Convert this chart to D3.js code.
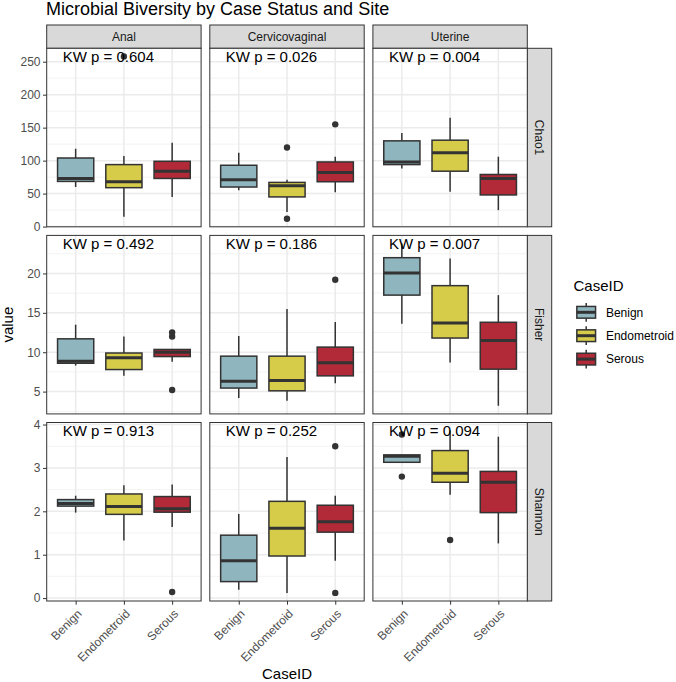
<!DOCTYPE html>
<html>
<head>
<meta charset="utf-8">
<script src="https://cdn.jsdelivr.net/npm/d3@7"></script>
<style>
  html, body { margin: 0; padding: 0; background: #fff; }
  svg { display: block; font-family: "Liberation Sans", Arial, Helvetica, sans-serif; }
</style>
</head>
<body>
<svg id="chart" width="676" height="682"></svg>
<script>
// ---------- data ----------
const sites = ["Anal", "Cervicovaginal", "Uterine"];
const metrics = ["Chao1", "Fisher", "Shannon"];
const caseIDs = ["Benign", "Endometroid", "Serous"];

// Kruskal-Wallis p-values, [metric][site]
const chao1PValues = ["0.604", "0.026", "0.004"];
const fisherPValues = ["0.492", "0.186", "0.007"];
const shannonPValues = ["0.913", "0.252", "0.094"];

// box stats: [site, caseID, lowerWhisker, q1, median, q3, upperWhisker]
const chao1Boxes = [
  ["Anal", "Benign", 60, 68.5, 73, 104, 118],
  ["Anal", "Endometroid", 15, 59, 68, 94, 107],
  ["Anal", "Serous", 45, 73, 84, 99, 127],
  ["Cervicovaginal", "Benign", 55, 60, 71, 93, 112],
  ["Cervicovaginal", "Endometroid", 22, 45, 62, 67, 71],
  ["Cervicovaginal", "Serous", 52, 68, 82, 98, 106],
  ["Uterine", "Benign", 88, 94, 98, 130, 142],
  ["Uterine", "Endometroid", 53, 84, 112, 131, 165],
  ["Uterine", "Serous", 25, 48, 73, 79, 106]
];
const chao1Outliers = [
  ["Anal", "Endometroid", 258],
  ["Cervicovaginal", "Endometroid", 120],
  ["Cervicovaginal", "Endometroid", 12],
  ["Cervicovaginal", "Serous", 155]
];

const fisherBoxes = [
  ["Anal", "Benign", 8.3, 8.6, 8.85, 11.7, 13.5],
  ["Anal", "Endometroid", 7.0, 7.8, 9.3, 9.9, 12.0],
  ["Anal", "Serous", 8.8, 9.45, 10.0, 10.35, 10.4],
  ["Cervicovaginal", "Benign", 4.2, 5.45, 6.3, 9.5, 12.05],
  ["Cervicovaginal", "Endometroid", 3.85, 5.1, 6.4, 9.5, 15.5],
  ["Cervicovaginal", "Serous", 6.05, 7.0, 8.65, 10.65, 13.85],
  ["Uterine", "Benign", 13.6, 17.25, 20.05, 22.0, 23.8],
  ["Uterine", "Endometroid", 8.7, 11.8, 13.7, 18.45, 21.9],
  ["Uterine", "Serous", 3.2, 7.85, 11.5, 13.8, 17.25]
];
const fisherOutliers = [
  ["Anal", "Serous", 12.5],
  ["Anal", "Serous", 12.0],
  ["Anal", "Serous", 5.2],
  ["Cervicovaginal", "Serous", 19.2]
];

const shannonBoxes = [
  ["Anal", "Benign", 1.97, 2.12, 2.18, 2.27, 2.36],
  ["Anal", "Endometroid", 1.33, 1.93, 2.11, 2.4, 2.6],
  ["Anal", "Serous", 1.64, 1.98, 2.06, 2.34, 2.62],
  ["Cervicovaginal", "Benign", 0.19, 0.38, 0.86, 1.45, 1.94],
  ["Cervicovaginal", "Endometroid", 0.12, 0.97, 1.61, 2.23, 3.25],
  ["Cervicovaginal", "Serous", 0.86, 1.52, 1.76, 2.14, 2.36],
  ["Uterine", "Benign", 3.13, 3.13, 3.27, 3.3, 3.3],
  ["Uterine", "Endometroid", 2.38, 2.67, 2.88, 3.4, 3.86],
  ["Uterine", "Serous", 1.26, 1.97, 2.67, 2.92, 3.72]
];
const shannonOutliers = [
  ["Anal", "Serous", 0.14],
  ["Cervicovaginal", "Serous", 3.5],
  ["Cervicovaginal", "Serous", 0.12],
  ["Uterine", "Benign", 3.77],
  ["Uterine", "Benign", 2.8],
  ["Uterine", "Endometroid", 1.34]
];

const chao1Ticks = [0, 50, 100, 150, 200, 250];
const fisherTicks = [5, 10, 15, 20];
const shannonTicks = [0, 1, 2, 3, 4];

const caseColors = ["#8FB6BE", "#D6CC4A", "#B22A38"];

// ---------- assemble rows ----------
const rows = [
  { metric: metrics[0], boxes: chao1Boxes, outliers: chao1Outliers, ticks: chao1Ticks, p: chao1PValues },
  { metric: metrics[1], boxes: fisherBoxes, outliers: fisherOutliers, ticks: fisherTicks, p: fisherPValues },
  { metric: metrics[2], boxes: shannonBoxes, outliers: shannonOutliers, ticks: shannonTicks, p: shannonPValues }
];

// ---------- layout ----------
const W = 676, H = 682;
const panelLeft = 46.7, panelW = 154.4, colGap = 8.7;
const panelTop = 48.3, panelH = 178.5, rowGap = 8.6;
const stripH = 23.3, stripW = 24.4;
const tickLen = 3.7;

const svg = d3.select("#chart");
svg.append("rect").attr("width", W).attr("height", H).attr("fill", "#fff");

const color = d3.scaleOrdinal().domain(caseIDs).range(caseColors);

// title
svg.append("text")
  .attr("x", 46).attr("y", 15)
  .attr("font-size", 18).attr("fill", "#000")
  .text("Microbial Biversity by Case Status and Site");

const colX = d3.scaleBand().domain(sites).range([panelLeft, panelLeft + 3 * panelW + 2 * colGap]).paddingInner(colGap / (panelW + colGap));
const rowY = d3.scaleBand().domain(metrics).range([panelTop, panelTop + 3 * panelH + 2 * rowGap]).paddingInner(rowGap / (panelH + rowGap));

// top strips
sites.forEach(site => {
  const x0 = colX(site);
  const g = svg.append("g");
  g.append("rect").attr("x", x0).attr("y", panelTop - stripH).attr("width", panelW).attr("height", stripH)
    .attr("fill", "#D9D9D9").attr("stroke", "#333333").attr("stroke-width", 1);
  g.append("text").attr("x", x0 + panelW / 2).attr("y", panelTop - stripH / 2).attr("dy", "0.35em")
    .attr("text-anchor", "middle").attr("font-size", 12).attr("fill", "#1A1A1A").text(site);
});

rows.forEach((row, ri) => {
  const y0 = rowY(row.metric);
  const allVals = row.boxes.flatMap(b => b.slice(2)).concat(row.outliers.map(o => o[2]));
  const [mn, mx] = d3.extent(allVals);
  const pad = (mx - mn) * 0.05;
  const y = d3.scaleLinear().domain([mn - pad, mx + pad]).range([y0 + panelH, y0]);

  // minor breaks
  const step = row.ticks[1] - row.ticks[0];
  const minor = [];
  for (let t = row.ticks[0] - step / 2; t <= mx + pad; t += step) {
    if (t >= mn - pad) minor.push(t);
  }

  // right strip
  const sx = colX(sites[2]) + panelW;
  svg.append("rect").attr("x", sx).attr("y", y0).attr("width", stripW).attr("height", panelH)
    .attr("fill", "#D9D9D9").attr("stroke", "#333333").attr("stroke-width", 1);
  svg.append("text")
    .attr("transform", `translate(${sx + stripW / 2},${y0 + panelH / 2}) rotate(90)`)
    .attr("dy", "0.35em").attr("text-anchor", "middle")
    .attr("font-size", 12).attr("fill", "#1A1A1A").text(row.metric);

  sites.forEach((site, si) => {
    const x0 = colX(site);
    const x = d3.scaleBand().domain(caseIDs).range([x0, x0 + panelW]).paddingInner(0.2).paddingOuter(0.2 + 0.5 * 0);
    // emulate ggplot discrete: centers at positions 1..3 in [0.4,3.6]
    const xc = d3.scalePoint().domain(caseIDs).range([x0 + panelW * 0.6 / 3.2, x0 + panelW * 2.6 / 3.2]);
    const unit = panelW / 3.2;
    const bw = unit * 0.75;

    const g = svg.append("g");
    // background
    g.append("rect").attr("x", x0).attr("y", y0).attr("width", panelW).attr("height", panelH).attr("fill", "#fff");
    // minor grid
    g.selectAll(".minor").data(minor).join("line")
      .attr("x1", x0).attr("x2", x0 + panelW)
      .attr("y1", d => y(d)).attr("y2", d => y(d))
      .attr("stroke", "#F2F2F2").attr("stroke-width", 0.9);
    // major grid
    g.selectAll(".majorY").data(row.ticks).join("line")
      .attr("x1", x0).attr("x2", x0 + panelW)
      .attr("y1", d => y(d)).attr("y2", d => y(d))
      .attr("stroke", "#EBEBEB").attr("stroke-width", 1.5);
    g.selectAll(".majorX").data(caseIDs).join("line")
      .attr("x1", d => xc(d)).attr("x2", d => xc(d))
      .attr("y1", y0).attr("y2", y0 + panelH)
      .attr("stroke", "#EBEBEB").attr("stroke-width", 1.5);

    // boxes
    const boxes = row.boxes.filter(b => b[0] === site);
    boxes.forEach(b => {
      const cx = xc(b[1]);
      const [lw, q1, med, q3, uw] = b.slice(2);
      g.append("line").attr("x1", cx).attr("x2", cx).attr("y1", y(q3)).attr("y2", y(uw))
        .attr("stroke", "#333333").attr("stroke-width", 1.5);
      g.append("line").attr("x1", cx).attr("x2", cx).attr("y1", y(q1)).attr("y2", y(lw))
        .attr("stroke", "#333333").attr("stroke-width", 1.5);
      g.append("rect").attr("x", cx - bw / 2).attr("y", y(q3)).attr("width", bw).attr("height", Math.max(0.5, y(q1) - y(q3)))
        .attr("fill", color(b[1])).attr("stroke", "#333333").attr("stroke-width", 1.5);
      g.append("line").attr("x1", cx - bw / 2).attr("x2", cx + bw / 2).attr("y1", y(med)).attr("y2", y(med))
        .attr("stroke", "#333333").attr("stroke-width", 3);
    });
    // outliers
    g.selectAll(".out").data(row.outliers.filter(o => o[0] === site)).join("circle")
      .attr("cx", d => xc(d[1])).attr("cy", d => y(d[2])).attr("r", 3.2).attr("fill", "#333333");

    // KW label
    g.append("text").attr("x", x0 + 16).attr("y", y(mx)).attr("dy", "0.36em")
      .attr("font-size", 15).attr("fill", "#000")
      .text(`KW p = ${row.p[si]}`);

    // border
    g.append("rect").attr("x", x0).attr("y", y0).attr("width", panelW).attr("height", panelH)
      .attr("fill", "none").attr("stroke", "#333333").attr("stroke-width", 1);

    // y axis on first column
    if (si === 0) {
      const ax = svg.append("g").attr("transform", `translate(${x0},0)`)
        .call(d3.axisLeft(y).tickValues(row.ticks).tickSize(tickLen).tickPadding(2.5).tickFormat(d3.format("d")));
      ax.select(".domain").remove();
      ax.selectAll(".tick line").attr("stroke", "#333333");
      ax.selectAll(".tick text").attr("font-size", 12).attr("fill", "#4D4D4D").attr("font-family", null);
    }
    // x axis on bottom row
    if (ri === 2) {
      const ax = svg.append("g").attr("transform", `translate(0,${y0 + panelH})`)
        .call(d3.axisBottom(xc).tickSize(tickLen).tickFormat(""));
      ax.select(".domain").remove();
      ax.selectAll(".tick line").attr("stroke", "#333333");
      caseIDs.forEach(c => {
        svg.append("text")
          .attr("transform", `translate(${xc(c)},${y0 + panelH + tickLen + 3}) rotate(-45)`)
          .attr("text-anchor", "end").attr("dy", "0.8em")
          .attr("font-size", 12).attr("fill", "#4D4D4D").text(c);
      });
    }
  });
});

// axis titles
svg.append("text").attr("x", (panelLeft + colX(sites[2]) + panelW) / 2).attr("y", 679)
  .attr("text-anchor", "middle").attr("font-size", 15).attr("fill", "#000").text("CaseID");
svg.append("text")
  .attr("transform", `translate(12.7,${(panelTop + rowY(metrics[2]) + panelH) / 2}) rotate(-90)`)
  .attr("text-anchor", "middle").attr("font-size", 15).attr("fill", "#000").text("value");

// legend
const lg = svg.append("g").attr("transform", "translate(573.5,0)");
lg.append("text").attr("x", 0).attr("y", 291).attr("font-size", 15).attr("fill", "#000").text("CaseID");
const keySize = 23.4;
caseIDs.forEach((c, i) => {
  const ky = 300.6 + i * keySize;
  const kx = 1;
  const cx = kx + keySize / 2;
  lg.append("line").attr("x1", cx).attr("x2", cx).attr("y1", ky + keySize * 0.1).attr("y2", ky + keySize * 0.9)
    .attr("stroke", "#333333").attr("stroke-width", 1.5);
  lg.append("rect").attr("x", kx + keySize * 0.1).attr("y", ky + keySize * 0.25)
    .attr("width", keySize * 0.8).attr("height", keySize * 0.5)
    .attr("fill", color(c)).attr("stroke", "#333333").attr("stroke-width", 1.5);
  lg.append("line").attr("x1", kx + keySize * 0.1).attr("x2", kx + keySize * 0.9)
    .attr("y1", ky + keySize / 2).attr("y2", ky + keySize / 2)
    .attr("stroke", "#333333").attr("stroke-width", 3);
  lg.append("text").attr("x", kx + keySize + 8).attr("y", ky + keySize / 2).attr("dy", "0.35em")
    .attr("font-size", 12).attr("fill", "#000").text(c);
});
</script>
</body>
</html>
